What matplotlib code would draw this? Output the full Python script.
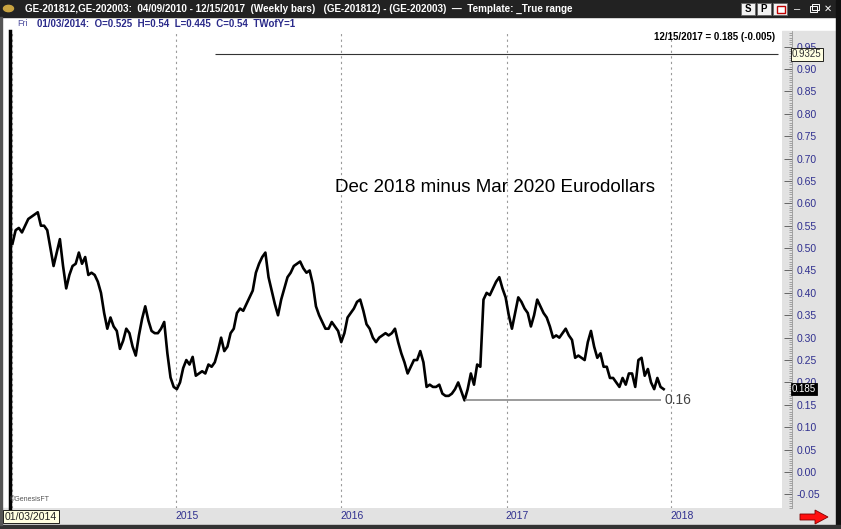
import pandas as pd
import matplotlib.pyplot as plt
import numpy as np
from matplotlib.patches import Rectangle, Polygon

plt.rcParams['font.family'] = ['Liberation Sans', 'DejaVu Sans']

# weekly closes of the GE-201812 - GE-202003 spread
start_date = '2014-01-03'
spread = [
    0.51, 0.54, 0.545, 0.535, 0.55, 0.565, 0.57, 0.575, 0.58, 0.55,
    0.55, 0.54, 0.50, 0.46, 0.49, 0.52, 0.46, 0.41, 0.44, 0.46,
    0.465, 0.49, 0.465, 0.48, 0.44, 0.445, 0.44, 0.425, 0.40, 0.355,
    0.32, 0.345, 0.325, 0.315, 0.275, 0.293, 0.32, 0.31, 0.28, 0.26,
    0.305, 0.342, 0.37, 0.338, 0.315, 0.31, 0.31, 0.32, 0.335, 0.265,
    0.211, 0.19, 0.185, 0.20, 0.232, 0.25, 0.24, 0.257, 0.215, 0.22,
    0.225, 0.22, 0.24, 0.235, 0.245, 0.27, 0.30, 0.27, 0.28, 0.31,
    0.32, 0.355, 0.365, 0.36, 0.375, 0.39, 0.405, 0.445, 0.465, 0.48,
    0.49, 0.435, 0.405, 0.375, 0.35, 0.385, 0.41, 0.435, 0.445, 0.46,
    0.465, 0.47, 0.455, 0.445, 0.45, 0.42, 0.37, 0.35, 0.335, 0.32,
    0.32, 0.335, 0.325, 0.315, 0.29, 0.31, 0.345, 0.355, 0.365, 0.38,
    0.385, 0.36, 0.33, 0.32, 0.30, 0.29, 0.30, 0.305, 0.31, 0.305,
    0.31, 0.32, 0.29, 0.265, 0.245, 0.22, 0.235, 0.25, 0.25, 0.27,
    0.245, 0.19, 0.195, 0.19, 0.19, 0.195, 0.175, 0.17, 0.17, 0.175,
    0.185, 0.20, 0.18, 0.16, 0.185, 0.22, 0.195, 0.24, 0.235, 0.385,
    0.40, 0.395, 0.41, 0.425, 0.435, 0.41, 0.39, 0.35, 0.32, 0.355,
    0.39, 0.38, 0.365, 0.355, 0.325, 0.35, 0.385, 0.37, 0.355, 0.345,
    0.325, 0.30, 0.305, 0.30, 0.31, 0.32, 0.305, 0.295, 0.255, 0.26,
    0.255, 0.25, 0.29, 0.315, 0.28, 0.255, 0.265, 0.235, 0.235, 0.21,
    0.21, 0.20, 0.19, 0.21, 0.195, 0.22, 0.22, 0.19, 0.25, 0.255,
    0.215, 0.23, 0.20, 0.185, 0.21, 0.19, 0.185,
]
years = ['2015', '2016', '2017', '2018']
support = 0.16
cursor_level = 0.9325
cursor_from = '2015-03-27'
scale_ticks = np.round(np.arange(-0.05, 0.951, 0.05), 2)

dates = pd.date_range(start_date, periods=len(spread), freq='W-FRI')
last = spread[-1]
change = spread[-1] - spread[-2]

W, H = 841, 529
fig = plt.figure(figsize=(W / 100, H / 100), dpi=100)
fig.patch.set_facecolor('white')


def box(x0, y0, x1, y1, z=-1, **kw):
    r = Rectangle((x0 / W, 1 - y1 / H), (x1 - x0) / W, (y1 - y0) / H,
                  transform=fig.transFigure, zorder=z, **kw)
    fig.add_artist(r)
    return r


def ftext(x, y, s, **kw):
    return fig.text(x / W, 1 - y / H, s, **kw)


# window chrome (behind the axes)
box(0, 0, W, 17, color='#222222')
box(782, 31, 836, 508, color='#e2e2e2')
box(0, 508, 836, 525, color='#e2e2e2')
box(836, 0, W, H, color='#111111')
box(0, 525, W, H, color='#333333')
box(0, 17, 2, 525, color='#555555')

fig.add_artist(plt.Circle((8.5 / W, 1 - 8.5 / H), 5 / W, transform=fig.transFigure,
                          color='#c9a441'))
ftext(25, 9, 'GE-201812,GE-202003:  04/09/2010 - 12/15/2017  (Weekly bars)   '
      '(GE-201812) - (GE-202003)  \u2014  Template: _True range',
      color='white', fontsize=7.15, fontweight='bold', va='center')
for x0, lab in [(741, 'S'), (757, 'P'), (773, '')]:
    box(x0, 3, x0 + 14, 15, z=2, facecolor='#f2f2f2', edgecolor='#666666', lw=0.6)
    if lab:
        ftext(x0 + 7, 9.5, lab, color='black', fontsize=7, fontweight='bold',
              ha='center', va='center')
box(777, 6, 785, 13, z=3, facecolor='white', edgecolor='#c00000', lw=1)
ftext(797, 9, '\u2013', color='white', fontsize=8, ha='center', va='center')
box(810, 6, 817, 12, z=2, facecolor='none', edgecolor='white', lw=0.7)
box(812, 4, 819, 10, z=2, facecolor='none', edgecolor='white', lw=0.7)
ftext(828, 9, '\u2715', color='white', fontsize=7, ha='center', va='center',
      family='DejaVu Sans')

# info row
ftext(17, 24, 'Fri', color='#5050a0', fontsize=6.5, va='center')
ftext(37, 24, '01/03/2014:  O=0.525  H=0.54  L=0.445  C=0.54  TWofY=1',
      color='#2a2a8a', fontsize=7, fontweight='bold', va='center')

# main price pane
px_l, px_r, px_t, px_b = 9.5, 782, 31, 508
ax = fig.add_axes([px_l / W, 1 - px_b / H, (px_r - px_l) / W, (px_b - px_t) / H])
ax.set_ylim(-0.0804, 0.9848)
ax.set_xlim(pd.Timestamp('2013-12-27 10:00'), pd.Timestamp('2018-09-03'))
ax.set_facecolor('white')
for s in ['top', 'right', 'bottom']:
    ax.spines[s].set_visible(False)
ax.spines['left'].set_linewidth(2.5)
ax.spines['left'].set_color('black')
ax.set_xticks([])
ax.set_yticks([])

for y in years:
    ax.axvline(pd.Timestamp(y + '-01-01'), color='#9a9a9a', lw=0.8, ls=(0, (2, 3)))
ax.axvline(dates[0], color='#9a9a9a', lw=0.8, ls=(0, (2, 3)))

ax.plot(dates, spread, color='black', lw=1.9)

# support line at the low
low_i = int(np.argmin(spread))
ax.hlines(support, dates[low_i], dates[-2], color='#8a8a8a', lw=1.2)
ax.annotate(f'{support:.2f}', (dates[-2], support), xytext=(3, 0),
            textcoords='offset points', color='#444444', fontsize=10, va='center')

# cursor line
ax.hlines(cursor_level, pd.Timestamp(cursor_from), pd.Timestamp('2018-08-25'),
          color='#333333', lw=0.8)

ax.text(0.4214, 0.671, 'Dec 2018 minus Mar 2020 Eurodollars', transform=ax.transAxes,
        fontsize=13.5, va='center', ha='left')
ax.text(0.991, 0.987, f'{dates[-1]:%m/%d/%Y} = {last:.3f} ({change:.3f})',
        transform=ax.transAxes, fontsize=7, fontweight='bold', ha='right', va='center')
ax.text(0.001, 0.018, '\u00a9GenesisFT', transform=ax.transAxes, fontsize=5,
        color='#555555', va='center')

# year labels in the bottom bar
for y in years:
    ax.text(pd.Timestamp(y + '-01-01') + pd.Timedelta(days=24), -0.0178, y,
            transform=ax.get_xaxis_transform(), color='#2f2f8f', fontsize=7.5,
            ha='center', va='center', clip_on=False)

# price scale
sc = fig.add_axes([782 / W, 1 - px_b / H, 10 / W, (px_b - px_t) / H])
sc.set_ylim(ax.get_ylim())
sc.patch.set_visible(False)
for s in ['left', 'top', 'bottom']:
    sc.spines[s].set_visible(False)
sc.spines['right'].set_color('#9a9a9a')
sc.spines['right'].set_linewidth(0.6)
sc.set_xticks([])
sc.yaxis.tick_right()
sc.set_yticks(scale_ticks)
sc.set_yticklabels([f'{v:.2f}' for v in scale_ticks])
sc.set_yticks(np.arange(-0.08, 0.985, 0.005), minor=True)
sc.tick_params(axis='y', which='major', direction='in', length=5.5, width=0.7,
               color='#666666', labelcolor='#2f2f8f', labelsize=7.5, pad=3)
sc.tick_params(axis='y', which='minor', direction='in', length=2.5, width=0.5,
               color='#888888')

# value flags on the scale
sc.text(1.0, cursor_level, f'{cursor_level:.4f}', transform=sc.get_yaxis_transform(),
        fontsize=7, color='#333333', va='center', ha='left', clip_on=False, zorder=5,
        bbox=dict(boxstyle='square,pad=0.15', fc='#ffffe1', ec='black', lw=0.6))
sc.text(1.0, last, f'{last:.3f}', transform=sc.get_yaxis_transform(),
        fontsize=7, color='white', va='center', ha='left', clip_on=False, zorder=5,
        bbox=dict(boxstyle='square,pad=0.12', fc='black', ec='black', lw=0.6))

# date flag and arrow
ftext(5, 516.5, '01/03/2014', fontsize=7.5, color='#222222', va='center',
      bbox=dict(boxstyle='square,pad=0.15', fc='#ffffe1', ec='black', lw=0.6))
arrow = [(800, 514), (815, 514), (815, 510), (828, 517), (815, 524), (815, 520), (800, 520)]
fig.add_artist(Polygon([(x / W, 1 - y / H) for x, y in arrow], closed=True,
                       transform=fig.transFigure, fc='#ff1010', ec='#800000', lw=0.6))

fig.savefig('out.png', dpi=100)
